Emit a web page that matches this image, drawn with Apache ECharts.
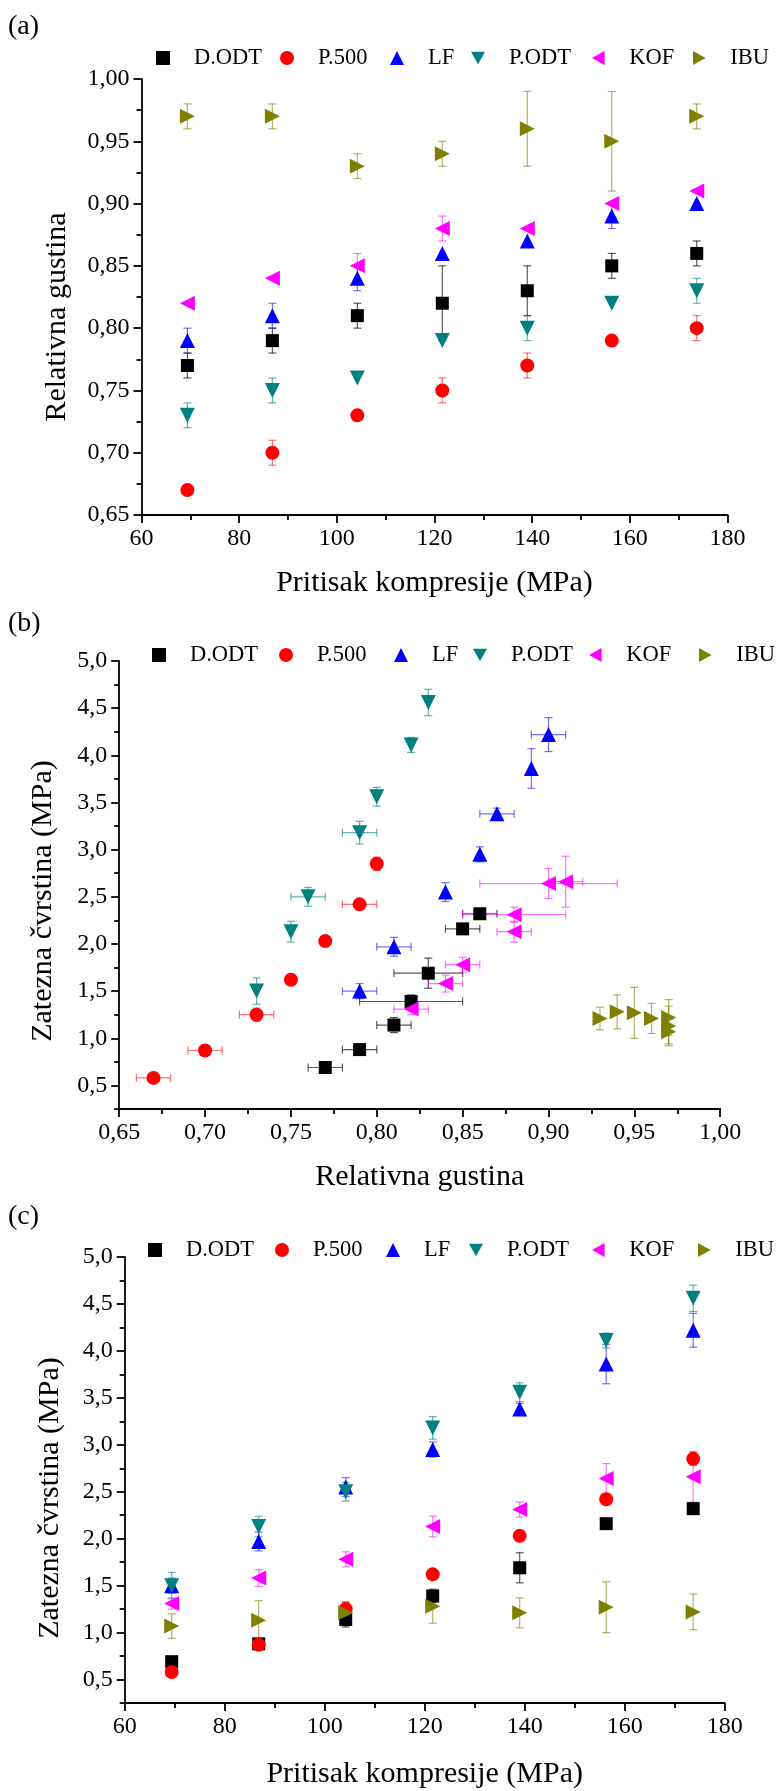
<!DOCTYPE html>
<html><head><meta charset="utf-8">
<script src="https://cdn.jsdelivr.net/npm/echarts@6/dist/echarts.min.js"></script>
<style>html,body{margin:0;padding:0;background:#fff}#chart{width:782px;height:1791px}</style>
</head><body><div id="chart"></div>
<script>
// ---------------- DATA ----------------
const seriesNames = ['D.ODT', 'P.500', 'LF', 'P.ODT', 'KOF', 'IBU'];
const pressure = [69.4, 86.8, 104.2, 121.6, 139.0, 156.3, 173.7];

// relative density
const densDODT = [0.77, 0.79, 0.81, 0.82, 0.83, 0.85, 0.86];
const densP500 = [0.67, 0.70, 0.73, 0.75, 0.77, 0.79, 0.80];
const densLF   = [0.79, 0.81, 0.84, 0.86, 0.87, 0.89, 0.90];
const densPODT = [0.73, 0.75, 0.76, 0.79, 0.80, 0.82, 0.83];
const densKOF  = [0.82, 0.84, 0.85, 0.88, 0.88, 0.90, 0.91];
const densIBU  = [0.97, 0.97, 0.93, 0.94, 0.96, 0.95, 0.97];

// density error bars shown in panel (a)
const densErrA_DODT = [0.01, 0.01, 0.01, 0.03, 0.02, 0.01, 0.01];
const densErrA_P500 = [0, 0.01, 0, 0.01, 0.01, 0, 0.01];
const densErrA_LF   = [0.01, 0.01, 0.01, 0, 0, 0.01, 0];
const densErrA_PODT = [0.01, 0.01, 0, 0, 0.01, 0, 0.01];
const densErrA_KOF  = [0, 0, 0.01, 0.01, 0, 0, 0];
const densErrA_IBU  = [0.01, 0.01, 0.01, 0.01, 0.03, 0.04, 0.01];

// density error bars shown in panel (b)
const densErrB_DODT = [0.01, 0.01, 0.01, 0.03, 0.02, 0.01, 0.01];
const densErrB_P500 = [0.01, 0.01, 0.01, 0, 0, 0.01, 0];
const densErrB_LF   = [0.01, 0.01, 0, 0, 0.01, 0, 0.01];
const densErrB_PODT = [0, 0, 0.01, 0.01, 0, 0, 0];
const densErrB_KOF  = [0.01, 0.01, 0.01, 0.01, 0.03, 0.04, 0.01];
const densErrB_IBU  = [0, 0, 0, 0, 0, 0, 0];

// tensile strength (MPa)
const tsDODT = [0.69, 0.88, 1.14, 1.39, 1.69, 2.16, 2.32];
const tsP500 = [0.58, 0.87, 1.25, 1.62, 2.03, 2.42, 2.85];
const tsLF   = [1.50, 1.97, 2.55, 2.95, 3.38, 3.86, 4.22];
const tsPODT = [1.50, 2.13, 2.50, 3.18, 3.56, 4.11, 4.56];
const tsKOF  = [1.31, 1.58, 1.78, 2.13, 2.31, 2.64, 2.66];
const tsIBU  = [1.07, 1.13, 1.21, 1.28, 1.21, 1.27, 1.22];

// tensile strength error bars
const tsErrDODT = [0.03, 0.03, 0.08, 0.07, 0.16, 0.04, 0.04];
const tsErrP500 = [0.02, 0.05, 0.07, 0.03, 0.03, 0.03, 0.07];
const tsErrLF   = [0.08, 0.10, 0.10, 0.08, 0.06, 0.21, 0.18];
const tsErrPODT = [0.14, 0.11, 0.10, 0.12, 0.10, 0.08, 0.14];
const tsErrKOF  = [0.06, 0.09, 0.08, 0.11, 0.08, 0.16, 0.27];
const tsErrIBU  = [0.13, 0.21, 0.12, 0.18, 0.16, 0.27, 0.19];

// tick labels
const pressureTicks = [60, 80, 100, 120, 140, 160, 180];
const pressureMinor = [70, 90, 110, 130, 150, 170];
const densityTicks = [0.65, 0.70, 0.75, 0.80, 0.85, 0.90, 0.95, 1.00];
const densityMinor = [0.675, 0.725, 0.775, 0.825, 0.875, 0.925, 0.975];
const strengthTicks = [0.5, 1.0, 1.5, 2.0, 2.5, 3.0, 3.5, 4.0, 4.5, 5.0];
const strengthMinor = [0.25, 0.75, 1.25, 1.75, 2.25, 2.75, 3.25, 3.75, 4.25, 4.75];

// ---------------- STYLE ----------------
const FONT = '"Liberation Serif", "Times New Roman", serif';
const TRI_DOWN = 'path://M0,0 L10,0 L5,9 Z';
const TRI_LEFT = 'path://M9,0 L9,10 L0,5 Z';
const TRI_RIGHT = 'path://M0,0 L9,5 L0,10 Z';
const styles = [
  { symbol: 'rect', legendIcon: 'rect', rot: 0, size: 13, color: '#000000', err: 'rgba(0,0,0,0.65)' },
  { symbol: 'circle', legendIcon: 'circle', rot: 0, size: 14, color: '#ff0000', err: 'rgba(255,0,0,0.55)' },
  { symbol: 'triangle', legendIcon: 'triangle', rot: 0, size: 15, color: '#0000ff', err: 'rgba(0,0,255,0.55)' },
  { symbol: 'triangle', legendIcon: TRI_DOWN, rot: 180, size: 15, color: '#008080', err: 'rgba(0,128,128,0.6)' },
  { symbol: 'triangle', legendIcon: TRI_LEFT, rot: 90, size: 15, color: '#ff00ff', err: 'rgba(255,0,255,0.55)' },
  { symbol: 'triangle', legendIcon: TRI_RIGHT, rot: -90, size: 15, color: '#808000', err: 'rgba(128,128,0,0.6)' }
];
const dens = [densDODT, densP500, densLF, densPODT, densKOF, densIBU];
const densErrA = [densErrA_DODT, densErrA_P500, densErrA_LF, densErrA_PODT, densErrA_KOF, densErrA_IBU];
const densErrB = [densErrB_DODT, densErrB_P500, densErrB_LF, densErrB_PODT, densErrB_KOF, densErrB_IBU];
const ts = [tsDODT, tsP500, tsLF, tsPODT, tsKOF, tsIBU];
const tsErr = [tsErrDODT, tsErrP500, tsErrLF, tsErrPODT, tsErrKOF, tsErrIBU];

const grids = [
  { left: 141.5, top: 79, width: 586, height: 436 },
  { left: 119.2, top: 661, width: 601, height: 448 },
  { left: 124.7, top: 1257, width: 600, height: 446 }
];
// legend marker centres for each panel
const legendCentres = [
  [163, 287, 397, 478, 599, 700],
  [159, 286, 401, 480, 596, 706],
  [155, 282, 393, 476, 599, 705]
];
const legendMidY = [58, 655, 1250];

const fmt2 = v => Number(v).toFixed(2).replace('.', ',');
const fmt1 = v => Number(v).toFixed(1).replace('.', ',');
const fmt0 = v => String(v);

function axisPair(kind, gridIndex, min, max, major, minor, fmt, name, nameGap) {
  const main = {
    type: 'value', gridIndex, min, max,
    position: kind === 'x' ? 'bottom' : 'left',
    splitLine: { show: false },
    axisLine: { show: true, onZero: false, lineStyle: { color: '#000', width: 1.8 } },
    axisTick: { show: true, inside: false, length: 8, customValues: major, lineStyle: { color: '#000', width: 1.8 } },
    axisLabel: { show: true, customValues: major, formatter: fmt, color: '#000', fontFamily: FONT, fontSize: 24, margin: 12 },
    name: name || '', nameLocation: 'middle', nameGap: nameGap || 0,
    nameTextStyle: { fontFamily: FONT, fontSize: 30, color: '#000' }
  };
  const over = {
    type: 'value', gridIndex, min, max,
    position: kind === 'x' ? 'bottom' : 'left', offset: 0,
    splitLine: { show: false },
    axisLine: { show: false, onZero: false },
    axisTick: { show: true, inside: false, length: 5, customValues: minor, lineStyle: { color: '#000', width: 1.8 } },
    axisLabel: { show: false }
  };
  return [main, over];
}

const xAxes = [], yAxes = [];
// panel a
xAxes.push(...axisPair('x', 0, 60, 180, pressureTicks, pressureMinor, fmt0, 'Pritisak kompresije (MPa)', 53));
yAxes.push(...axisPair('y', 0, 0.65, 1.0, densityTicks, densityMinor, fmt2));
// panel b
xAxes.push(...axisPair('x', 1, 0.65, 1.0, densityTicks, densityMinor, fmt2, 'Relativna gustina', 53));
yAxes.push(...axisPair('y', 1, 0.25, 5.0, strengthTicks, strengthMinor, fmt1));
// panel c
xAxes.push(...axisPair('x', 2, 60, 180, pressureTicks, pressureMinor, fmt0, 'Pritisak kompresije (MPa)', 56));
yAxes.push(...axisPair('y', 2, 0.25, 5.0, strengthTicks, strengthMinor, fmt1));

function errRender(color) {
  return function (params, api) {
    const x = api.value(0), y = api.value(1), ex = api.value(2), ey = api.value(3);
    const cap = 4;
    const st = { stroke: color, lineWidth: 1.2, fill: null };
    const ch = [];
    if (ey > 0) {
      const p1 = api.coord([x, y - ey]), p2 = api.coord([x, y + ey]);
      ch.push({ type: 'line', shape: { x1: p1[0], y1: p1[1], x2: p2[0], y2: p2[1] }, style: st });
      ch.push({ type: 'line', shape: { x1: p1[0] - cap, y1: p1[1], x2: p1[0] + cap, y2: p1[1] }, style: st });
      ch.push({ type: 'line', shape: { x1: p2[0] - cap, y1: p2[1], x2: p2[0] + cap, y2: p2[1] }, style: st });
    }
    if (ex > 0) {
      const q1 = api.coord([x - ex, y]), q2 = api.coord([x + ex, y]);
      ch.push({ type: 'line', shape: { x1: q1[0], y1: q1[1], x2: q2[0], y2: q2[1] }, style: st });
      ch.push({ type: 'line', shape: { x1: q1[0], y1: q1[1] - cap, x2: q1[0], y2: q1[1] + cap }, style: st });
      ch.push({ type: 'line', shape: { x1: q2[0], y1: q2[1] - cap, x2: q2[0], y2: q2[1] + cap }, style: st });
    }
    return { type: 'group', children: ch };
  };
}

const series = [];
function addPanel(p, xArr, yArr, exArr, eyArr) {
  seriesNames.forEach((nm, i) => {
    const s = styles[i];
    const pts = xArr[i].map((xv, k) => [xv, yArr[i][k]]);
    const errs = xArr[i].map((xv, k) => [xv, yArr[i][k], exArr ? exArr[i][k] : 0, eyArr[i][k]]);
    series.push({
      type: 'custom', xAxisIndex: 2 * p, yAxisIndex: 2 * p, z: 2,
      renderItem: errRender(s.err), data: errs, encode: { x: 0, y: 1 }, silent: true
    });
    series.push({
      name: nm, type: 'scatter', xAxisIndex: 2 * p, yAxisIndex: 2 * p, z: 3,
      symbol: s.symbol, symbolRotate: s.rot, symbolSize: s.size,
      itemStyle: { color: s.color, opacity: 1 }, data: pts
    });
  });
}
const pressArr = seriesNames.map(() => pressure);
addPanel(0, pressArr, dens, null, densErrA);
addPanel(1, dens, ts, densErrB, tsErr);
addPanel(2, pressArr, ts, null, tsErr);

const legends = [];
legendCentres.forEach((cs, p) => {
  cs.forEach((cx, i) => {
    legends.push({
      data: [{ name: seriesNames[i], icon: styles[i].legendIcon, itemStyle: { color: styles[i].color } }],
      left: cx - 7, top: legendMidY[p] - 13, orient: 'horizontal', padding: 0,
      itemWidth: 14, itemHeight: 14, selectedMode: false,
      textStyle: { fontFamily: FONT, fontSize: 22.5, color: '#000', lineHeight: 26, padding: [0, 0, 0, 19] }
    });
  });
});

const titleStyle = { fontFamily: FONT, fontSize: 28, fontWeight: 'normal', color: '#000' };
const yTitleFont = '30px "Liberation Serif", "Times New Roman", serif';
const option = {
  backgroundColor: '#ffffff',
  animation: false,
  title: [
    { text: '(a)', left: 8, top: 13, padding: 0, textStyle: titleStyle },
    { text: '(b)', left: 8, top: 610, padding: 0, textStyle: titleStyle },
    { text: '(c)', left: 8, top: 1203, padding: 0, textStyle: titleStyle }
  ],
  graphic: [
    { type: 'text', x: 57.5, y: 317, rotation: Math.PI / 2, style: { text: 'Relativna gustina', font: yTitleFont, fill: '#000', align: 'center', verticalAlign: 'middle' } },
    { type: 'text', x: 43, y: 901, rotation: Math.PI / 2, style: { text: 'Zatezna čvrstina (MPa)', font: yTitleFont, fill: '#000', align: 'center', verticalAlign: 'middle' } },
    { type: 'text', x: 50, y: 1498, rotation: Math.PI / 2, style: { text: 'Zatezna čvrstina (MPa)', font: yTitleFont, fill: '#000', align: 'center', verticalAlign: 'middle' } }
  ],
  legend: legends,
  grid: grids,
  xAxis: xAxes,
  yAxis: yAxes,
  series
};

const chart = echarts.init(document.getElementById('chart'), null, { renderer: 'canvas' });
chart.setOption(option);
</script>
</body></html>
